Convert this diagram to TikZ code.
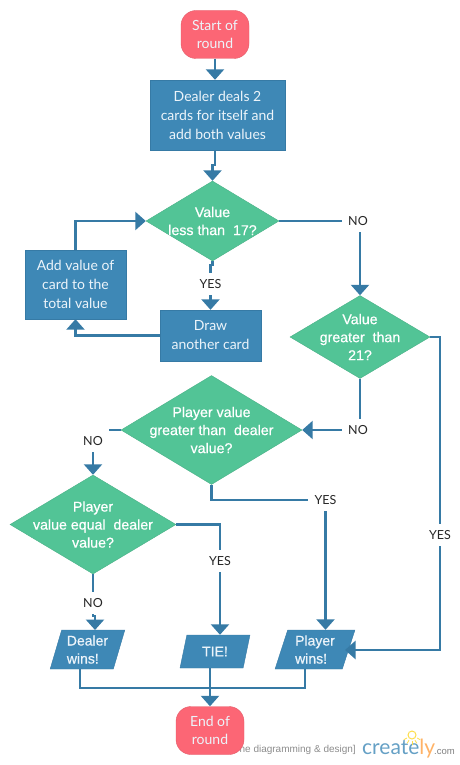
\documentclass[tikz,border=0pt]{standalone}
\usepackage{fontspec}
\usepackage{xcolor}
\usepackage{tikz}
\usetikzlibrary{shapes.geometric, arrows.meta}
\setmainfont{Lato}
\newfontfamily\decisionfont[FakeBold=0.6]{Liberation Sans}
\newfontfamily\markfont{Liberation Sans}
\definecolor{flowblue}{RGB}{62,136,182}
\definecolor{flowedge}{RGB}{54,122,165}
\definecolor{flowgreen}{RGB}{82,196,150}
\definecolor{flowred}{RGB}{252,102,117}
\definecolor{flowtext}{RGB}{236,244,250}

\begin{document}
\begin{tikzpicture}[
    x=1pt, y=-1pt,
    >={Triangle[width=18pt,length=10.5pt]},
    flow/.style={draw=flowedge, line width=2.4pt},
    terminal/.style={rectangle, rounded corners=15pt, draw=flowred!90!black, fill=flowred,
                     minimum width=68pt, minimum height=48pt, align=center, inner sep=0pt,
                     text=flowtext, font=\fontsize{14}{17.5}\selectfont},
    process/.style={rectangle, draw=flowedge, fill=flowblue, align=center, inner sep=0pt,
                    text=flowtext, font=\fontsize{14}{19}\selectfont},
    decisiontext/.style={align=center, inner sep=0pt, text=white,
                         font=\decisionfont\fontsize{14.2}{18}\selectfont},
    decision/.style={diamond, draw=flowgreen!90!black, fill=flowgreen, inner sep=0pt,
                     label={[decisiontext]center:#1}},
    output/.style={trapezium, trapezium left angle=72, trapezium right angle=108,
                   trapezium stretches=true, draw=flowedge, fill=flowblue, inner sep=0pt,
                   text=flowtext, font=\decisionfont\fontsize{14}{18}\selectfont},
    answer/.style={font=\fontsize{12.5}{14}\selectfont, text=black!85, inner sep=6.5pt}
]
\useasboundingbox (0,0) rectangle (460,765);

% watermark sits behind the last terminal
\node[font=\markfont\fontsize{10}{12}\selectfont, text=black!45, anchor=east, inner sep=0pt] (marktext) at (356,749.5) {ne diagramming \& design]};
\node[font=\fontsize{21}{22}\selectfont, text=flowblue!80, anchor=base west, inner sep=0pt] (markword) at (362,754) {create\textcolor{orange!60}{ly}};
\node[font=\markfont\fontsize{9.5}{12}\selectfont, text=black!50, anchor=base west, inner sep=0pt] (markcom) at (434,754) {.com};
\draw[yellow!70!orange!70, line width=1pt] (412,735) circle (4pt);
\foreach \a in {-150,-120,-90,-60,-30} {
    \draw[yellow!70!orange!70, line width=0.8pt] (412,735) ++(\a:-6) -- ++(\a:-3.5);
}

\node[terminal] (start) at (215,34.5) {Start of\\round};
\node[process, minimum width=135pt, minimum height=70pt] (deal) at (217.5,115) {Dealer deals 2\\cards for itself and\\add both values};
\node[decision={Value\\less than\ \ 17?}, minimum width=133pt, minimum height=80pt] (under) at (212.5,221) {};
\node[process, minimum width=101pt, minimum height=69pt] (addcard) at (75.5,284.5) {Add value of\\card to the\\total value};
\node[process, minimum width=101pt, minimum height=51pt] (draw) at (210.5,335.5) {Draw\\another card};
\node[decision={Value\\greater\ \ than\\21?}, minimum width=140pt, minimum height=83pt] (bust) at (360,337) {};
\node[decision={Player value\\greater than\ \ dealer\\value?}, minimum width=181pt, minimum height=109pt] (beats) at (211.5,430) {};
\node[decision={Player\\value equal\ \ dealer\\value?}, minimum width=166pt, minimum height=99pt] (equal) at (93,524.5) {};
\node[output, minimum width=75pt, minimum height=39pt, align=left] (dealerwins) at (87.5,649.5) {Dealer\\wins!};
\node[output, minimum width=70pt, minimum height=33pt] (tie) at (215,651.5) {TIE!};
\node[output, minimum width=80pt, minimum height=39pt, align=left] (playerwins) at (315,649.5) {Player\\wins!};
\node[terminal] (finish) at (210,730.5) {End of\\round};

\node[answer] (yesa) at (210.5,284) {YES};
\node[answer] (noa) at (358,221) {NO};
\node[answer] (nob) at (358,430) {NO};
\node[answer] (noc) at (93,441) {NO};
\node[answer] (yesb) at (325.5,500) {YES};
\node[answer] (yesc) at (220,561) {YES};
\node[answer] (nod) at (93,603) {NO};
\node[answer] (yesd) at (440,535) {YES};

\coordinate (dealertop) at (95,630);
\coordinate (dealerfoot) at (80,669);
\coordinate (tiefoot) at (210,668);
\coordinate (playerfoot) at (305,669);
\coordinate (playerside) at (345,650);

\draw[flow, ->] (start.south) -- (deal.north -| start.south);
\draw[flow, ->] (deal.south -| start.south) -- ++(0,15) -| (under.north);
\draw[flow, ->] (addcard.north) |- (under.west);
\draw[flow] (under.south) -- ++(0,4) -| (yesa.north);
\draw[flow, ->] (yesa.south) -- (draw.north);
\draw[flow, ->] (draw.west) -| (addcard.south);

\draw[flow] (under.east) -- (noa.west);
\draw[flow, ->] (noa.south -| bust.north) -- (bust.north);
\draw[flow] (bust.south) -- (nob.north -| bust.south);
\draw[flow, ->] (nob.west) -- (beats.east);
\draw[flow] (beats.west) -- (beats.west -| noc.east);
\draw[flow, ->] (noc.south) -- (equal.north);

\draw[flow] (beats.south) |- (yesb.west);
\draw[flow, ->] (yesb.south) -- (playerwins.north -| yesb.south);
\draw[flow] (equal.east) -| (yesc.north);
\draw[flow, ->] (yesc.south) -- (tie.north -| yesc.south);
\draw[flow] (equal.south) -- (nod.north);
\draw[flow, ->] (nod.south) -- ++(0,2) -| (dealertop);
\draw[flow] (bust.east) -| (yesd.north);
\draw[flow, ->] (yesd.south) |- (playerside);

\draw[flow] (dealerfoot) |- ++(225,19) -- (playerfoot);
\draw[flow, ->] (tiefoot) -- (finish.north);
\end{tikzpicture}
\end{document}
